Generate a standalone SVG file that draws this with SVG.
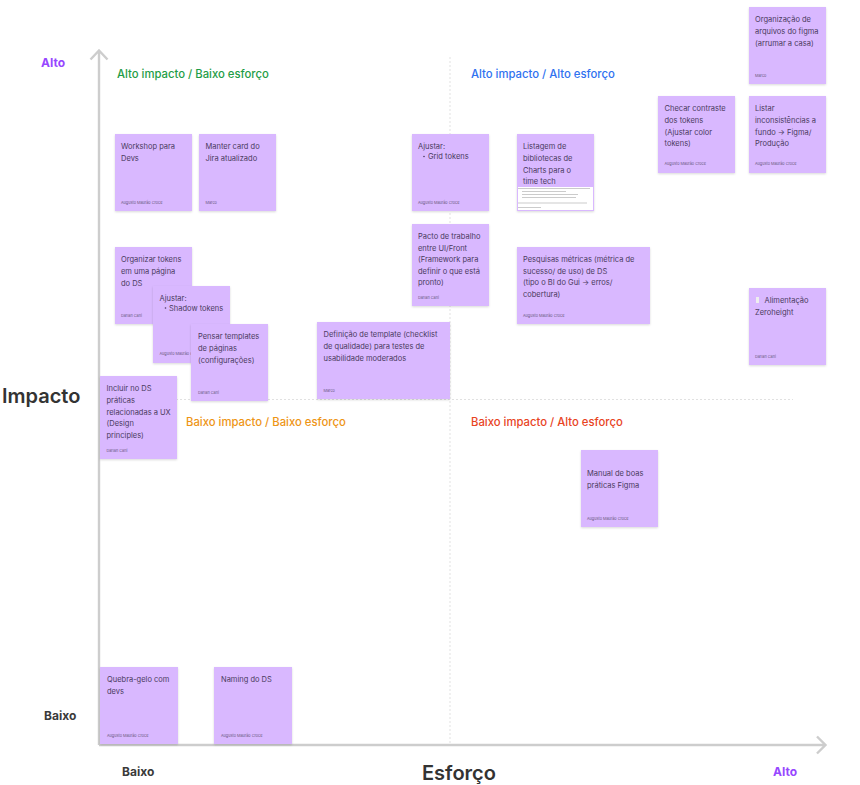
<svg xmlns="http://www.w3.org/2000/svg" width="860" height="785" viewBox="0 0 860 785">
<style>
text{font-family:Inter,"Noto Sans","Liberation Sans",sans-serif}
.card{fill:#d9b8ff;filter:url(#sh)}
.t{font-size:7.5px;fill:#4a3a5e}
.a{font-size:3.8px;fill:#6a5880}
.axis{fill:none;stroke:#cdcdcd;stroke-width:2.4}
.dash{fill:none;stroke:#d4d4d4;stroke-width:.7;stroke-dasharray:2 2}
.q{font-size:11.3px;font-weight:500}
.lv{font-weight:700;font-size:12px;fill:#3a3a3a}
.hi{font-weight:700;font-size:12px;fill:#9747ff}
.big{font-weight:600;font-size:20px;fill:#333}
</style>
<defs><filter id="sh" x="-10%" y="-10%" width="120%" height="120%"><feDropShadow dx="0" dy="1" stdDeviation="1" flood-color="#000" flood-opacity=".15"/></filter></defs>
<rect width="860" height="785" fill="#fff"/>
<g id="connectors">
<path class="dash" d="M450 57V745M100 399.500H793"/>
<path class="axis" d="M99 745V51M90.500 59.500L99 50.500L107.500 59.500M99 745H825M817 736.500L825.500 745L817 753.500"/>
</g>
<g id="labels">
<text class="hi" x="41" y="67">Alto</text>
<text class="q" x="117" y="78" fill="#1f9d47">Alto impacto / Baixo esforço</text>
<text class="q" x="471" y="78" fill="#2f72f0">Alto impacto / Alto esforço</text>
<text class="q" x="186" y="426" fill="#ee9516">Baixo impacto / Baixo esforço</text>
<text class="q" x="471" y="426" fill="#e8441f">Baixo impacto / Alto esforço</text>
<text class="big" x="2" y="403">Impacto</text>
<text class="lv" x="44" y="720">Baixo</text>
<text class="lv" x="122" y="776">Baixo</text>
<text class="big" x="422" y="780">Esforço</text>
<text class="hi" x="773" y="776">Alto</text>
</g>
<g id="n1"><rect class="card" x="115" y="134" width="77" height="77"/><text class="t" x="121" y="149">Workshop para</text><text class="t" x="121" y="161">Devs</text><text class="a" x="121" y="203.500">Augusto Maurão Croce</text></g>
<g id="n2"><rect class="card" x="199" y="134" width="77" height="77"/><text class="t" x="205.500" y="149">Manter card do</text><text class="t" x="205.500" y="161">Jira atualizado</text><text class="a" x="205.500" y="203.500">Marco</text></g>
<g id="n3"><rect class="card" x="412" y="134" width="77" height="77"/><text class="t" x="418" y="149">Ajustar:</text><circle cx="424" cy="156.500" r=".8" fill="#4a3a5e"/><text class="t" x="428" y="159">Grid tokens</text><text class="a" x="418" y="203.500">Augusto Maurão Croce</text></g>
<g id="n4"><rect class="card" x="517" y="134" width="77" height="77"/><text class="t" x="523" y="149">Listagem de</text><text class="t" x="523" y="161">bibliotecas de</text><text class="t" x="523" y="172.500">Charts para o</text><text class="t" x="523" y="184">time tech</text><rect x="518" y="187" width="75" height="23" fill="#fff"/><path d="M518 188.500H590M522 191.500H566M522 194.500H578M522 197.500H576M518 203H587M518 207.500H541" fill="none" stroke="#b5b5b5" stroke-width=".7"/></g>
<g id="n5"><rect class="card" x="412" y="224" width="77" height="82"/><text class="t" x="418" y="239">Pacto de trabalho</text><text class="t" x="418" y="250.500">entre UI/Front</text><text class="t" x="418" y="262">(Framework para</text><text class="t" x="418" y="273.500">definir o que está</text><text class="t" x="418" y="285">pronto)</text><text class="a" x="418" y="298.500">Darlan Carli</text></g>
<g id="n6"><rect class="card" x="517" y="247" width="133" height="77"/><text class="t" x="523" y="262">Pesquisas métricas (métrica de</text><text class="t" x="523" y="273.500">sucesso/ de uso) de DS</text><text class="t" x="523" y="285">(tipo o BI do Gui → erros/</text><text class="t" x="523" y="297">cobertura)</text><text class="a" x="523" y="316.500">Augusto Maurão Croce</text></g>
<g id="n7"><rect class="card" x="115" y="247" width="77" height="77"/><text class="t" x="121" y="262">Organizar tokens</text><text class="t" x="121" y="274">em uma página</text><text class="t" x="121" y="285.500">do DS</text><text class="a" x="121" y="316.500">Darlan Carli</text></g>
<g id="n8"><rect class="card" x="153" y="286" width="77" height="77"/><text class="t" x="159.500" y="301">Ajustar:</text><circle cx="165.500" cy="308" r=".8" fill="#4a3a5e"/><text class="t" x="169" y="311">Shadow tokens</text><text class="a" x="159.500" y="355">Augusto Maurão Croce</text></g>
<g id="n9"><rect class="card" x="191" y="324" width="77" height="77"/><text class="t" x="198" y="339">Pensar templates</text><text class="t" x="198" y="351">de páginas</text><text class="t" x="198" y="362.500">(configurações)</text><text class="a" x="198" y="393.500">Darlan Carli</text></g>
<g id="n10"><rect class="card" x="317" y="322" width="133" height="77"/><text class="t" x="323.500" y="337">Definição de template (checklist</text><text class="t" x="323.500" y="349">de qualidade) para testes de</text><text class="t" x="323.500" y="360.500">usabilidade moderados</text><text class="a" x="323.500" y="391.500">Marco</text></g>
<g id="n11"><rect class="card" x="100" y="376" width="77" height="83"/><text class="t" x="106.500" y="391">Incluir no DS</text><text class="t" x="106.500" y="403">práticas</text><text class="t" x="106.500" y="414.500">relacionadas a UX</text><text class="t" x="106.500" y="426">(Design</text><text class="t" x="106.500" y="438">principles)</text><text class="a" x="106.500" y="451.500">Darlan Carli</text></g>
<g id="n12"><rect class="card" x="581" y="450" width="77" height="77"/><text class="t" x="587" y="476">Manual de boas</text><text class="t" x="587" y="487.500">práticas Figma</text><text class="a" x="587" y="519.500">Augusto Maurão Croce</text></g>
<g id="n13"><rect class="card" x="100" y="667" width="78" height="77"/><text class="t" x="107" y="682">Quebra-gelo com</text><text class="t" x="107" y="694">devs</text><text class="a" x="107" y="736.500">Augusto Maurão Croce</text></g>
<g id="n14"><rect class="card" x="214" y="667" width="78" height="77"/><text class="t" x="221" y="682">Naming do DS</text><text class="a" x="221" y="736.500">Augusto Maurão Croce</text></g>
<g id="n15"><rect class="card" x="749" y="7" width="77" height="77"/><text class="t" x="755" y="22">Organização de</text><text class="t" x="755" y="34">arquivos do figma</text><text class="t" x="755" y="45.500">(arrumar a casa)</text><text class="a" x="755" y="77">Marco</text></g>
<g id="n16"><rect class="card" x="658" y="96" width="77" height="77"/><text class="t" x="664.500" y="111">Checar contraste</text><text class="t" x="664.500" y="123">dos tokens</text><text class="t" x="664.500" y="134.500">(Ajustar color</text><text class="t" x="664.500" y="146">tokens)</text><text class="a" x="664.500" y="165">Augusto Maurão Croce</text></g>
<g id="n17"><rect class="card" x="749" y="96" width="77" height="77"/><text class="t" x="755" y="111">Listar</text><text class="t" x="755" y="123">inconsistências a</text><text class="t" x="755" y="134.500">fundo → Figma/</text><text class="t" x="755" y="146">Produção</text><text class="a" x="755" y="165">Augusto Maurão Croce</text></g>
<g id="n18"><rect class="card" x="749" y="288" width="77" height="77"/><rect x="756" y="297" width="3" height="6" fill="#eee"/><text class="t" x="764.500" y="303">Alimentação</text><text class="t" x="755" y="315">Zeroheight</text><text class="a" x="755" y="357.500">Darlan Carli</text></g>
</svg>
